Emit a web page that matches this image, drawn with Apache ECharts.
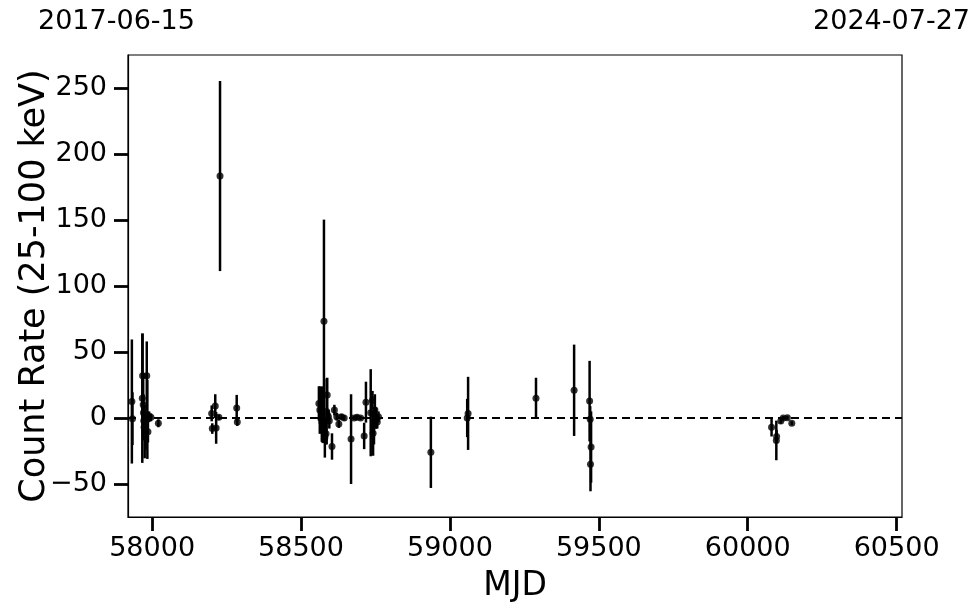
<!DOCTYPE html>
<html>
<head>
<meta charset="utf-8">
<script src="https://cdn.jsdelivr.net/npm/echarts@6/dist/echarts.min.js"></script>
<style>html,body{margin:0;padding:0;background:#fff;}#c{width:980px;height:613px;}</style>
</head>
<body>
<div id="c"></div>
<script>
// Observation times (MJD), count rates and 1-sigma errors (25-100 keV)
const mjd = [
  57932, 57934, 57968, 57982, 57967, 57970, 57971, 57972, 57973, 57975, 57978, 57984, 57986, 57990, 57996, 58021,
  58200, 58202, 58212, 58215, 58224, 58228, 58284, 58286,
  58560, 58563, 58571, 58570, 58573, 58577, 58580, 58584, 58588, 58586, 58592, 58595, 58604, 58612, 58620, 58627,
  58636, 58645, 58668, 58678, 58688, 58700, 58712, 58718, 58734, 58740, 58742, 58745, 58748, 58752, 58756, 58760,
  58936, 59058, 59061, 59289, 59417, 59469, 59471, 59474, 59472,
  60080, 60096, 60097, 60111, 60119, 60133, 60148
];
const rate = [
  12.5, -0.5, 32, 32, 15, 10, 4, -2, -7, -10.5, -14, -1, -10.5, 1, 0.5, -4,
  3.5, -8, 9, -7.5, 0.5, 183.3, 7.5, -3,
  11, 6, 3, -3, -9, 73.3, -15, -12, 17.5, 5, 1, -2, -21.6, 6, 1, -4.5,
  1, 0, -16, 0, 0.5, 0, -13.6, 12, 4, 13.5, -11.6, -6, 6, 0, -3, 1,
  -26, 0, 3.5, 15, 21, 12.8, -1, -22, -35,
  -7, -17, -14, -2.3, 0, 0.2, -4
];
const err = [
  47, 20, 32, 26, 49, 22, 14, 12, 10, 20, 10, 30, 8, 4, 3, 3,
  6, 4, 9, 12, 2, 72, 10, 3,
  13, 18, 21, 15, 10, 77, 15, 8, 13, 25, 5, 6, 10, 4, 3, 3,
  2, 2, 34, 1.5, 2, 1.5, 10, 15.5, 33, 7, 17, 14, 12, 8, 5, 4,
  27, 14.5, 27.7, 15.5, 34.6, 30.5, 10, 27, 20.5,
  7, 15, 5, 2, 1.5, 1.5, 1.5
];
const xTicks = [58000, 58500, 59000, 59500, 60000, 60500];
const yTicks = [-50, 0, 50, 100, 150, 200, 250];
const xRange = [57919, 60518];
const yRange = [-75, 275];
const dateLabels = ['2017-06-15', '2024-07-27'];

const points = mjd.map((m, i) => [m, rate[i]]);
const bars = mjd.map((m, i) => [m, rate[i] - err[i], rate[i] + err[i]]);
const fmt = v => String(v).replace('-', '\u2212');

const chart = echarts.init(document.getElementById('c'), null, {renderer: 'canvas'});
const font = 'DejaVu Sans';
chart.setOption({
  animation: false,
  backgroundColor: '#fff',
  textStyle: {fontFamily: font},
  grid: {left: 128, right: 78, top: 55, bottom: 96, show: true, borderColor: '#000', borderWidth: 1.2,
         backgroundColor: 'transparent', containLabel: false, outerBoundsMode: 'none'},
  xAxis: {
    type: 'value', min: xRange[0], max: xRange[1],
    name: 'MJD', nameLocation: 'middle', nameGap: 53, nameMoveOverlap: false,
    nameTextStyle: {fontSize: 33, color: '#000', fontFamily: font},
    axisLine: {show: true, onZero: false, lineStyle: {color: '#000', width: 1.2}},
    axisTick: {show: true, length: 14, customValues: xTicks, lineStyle: {color: '#000', width: 2.8}},
    axisLabel: {customValues: xTicks, formatter: fmt, fontSize: 27, color: '#000', margin: 18, fontFamily: font},
    splitLine: {show: false}
  },
  yAxis: {
    type: 'value', min: yRange[0], max: yRange[1],
    name: 'Count Rate (25-100 keV)', nameLocation: 'middle', nameGap: 76, nameMoveOverlap: false,
    nameTextStyle: {fontSize: 35, color: '#000', fontFamily: font},
    axisLine: {show: true, onZero: false, lineStyle: {color: '#000', width: 1.2}},
    axisTick: {show: true, length: 14, customValues: yTicks, lineStyle: {color: '#000', width: 2.8}},
    axisLabel: {customValues: yTicks, formatter: fmt, fontSize: 27, color: '#000', margin: 21, fontFamily: font},
    splitLine: {show: false}
  },
  graphic: [
    {type: 'text', left: 38, top: 8, style: {text: dateLabels[0], font: '27px "DejaVu Sans"', fill: '#000'}},
    {type: 'text', right: 10, top: 8, style: {text: dateLabels[1], font: '27px "DejaVu Sans"', fill: '#000'}}
  ],
  series: [
    {
      type: 'line', data: [[xRange[0], 0], [xRange[1], 0]], symbol: 'none', silent: true, z: 1,
      lineStyle: {color: '#000', width: 2, type: [8, 5]}
    },
    {
      type: 'custom', data: bars, clip: true, z: 2, silent: true,
      renderItem: function (params, api) {
        const x = api.value(0);
        const p1 = api.coord([x, api.value(2)]);
        const p2 = api.coord([x, api.value(1)]);
        return {type: 'line', shape: {x1: p1[0], y1: p1[1], x2: p2[0], y2: p2[1]},
                style: {stroke: '#000', lineWidth: 2.5}};
      },
      encode: {x: 0, y: [1, 2]}
    },
    {
      type: 'scatter', data: points, symbol: 'circle', symbolSize: 7, z: 3, silent: true,
      itemStyle: {color: '#000'}
    }
  ]
});
</script>
</body>
</html>
